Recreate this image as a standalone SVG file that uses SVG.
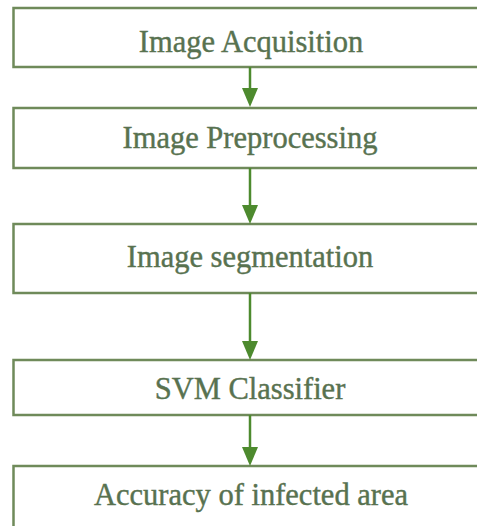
<svg xmlns="http://www.w3.org/2000/svg" width="477" height="526" viewBox="0 0 477 526">
<style>
  .box { fill: #ffffff; stroke: #6f8a5a; stroke-width: 2.5; }
  .lbl { font-family: "Liberation Serif", "Times New Roman", serif; font-size: 30.5px; fill: #587250; stroke: #587250; stroke-width: 0.4; text-anchor: middle; }
  .conn { stroke: #4d8a2e; stroke-width: 2.5; fill: none; }
  .head { fill: #4d8a2e; }
</style>
<rect x="0" y="0" width="477" height="526" fill="#ffffff"/>
<g id="node-acquisition">
  <rect class="box" x="13.5" y="8" width="480" height="59"/>
  <text class="lbl" x="251" y="52">Image Acquisition</text>
</g>
<g id="node-preprocessing">
  <rect class="box" x="13.5" y="108" width="480" height="60"/>
  <text class="lbl" x="250" y="148">Image Preprocessing</text>
</g>
<g id="node-segmentation">
  <rect class="box" x="13.5" y="224" width="480" height="69"/>
  <text class="lbl" x="250" y="267">Image segmentation</text>
</g>
<g id="node-svm">
  <rect class="box" x="13.5" y="360" width="480" height="55"/>
  <text class="lbl" x="250" y="399">SVM Classifier</text>
</g>
<g id="node-accuracy">
  <rect class="box" x="13.5" y="466" width="480" height="80"/>
  <text class="lbl" x="251" y="505">Accuracy of infected area</text>
</g>
<g id="connectors">
  <line class="conn" x1="250" y1="67" x2="250" y2="90"/>
  <polygon class="head" points="242,88 258,88 250,107"/>
  <line class="conn" x1="250" y1="168" x2="250" y2="207"/>
  <polygon class="head" points="242,205 258,205 250,224"/>
  <line class="conn" x1="250" y1="293" x2="250" y2="343"/>
  <polygon class="head" points="242,341 258,341 250,360"/>
  <line class="conn" x1="250" y1="415" x2="250" y2="449"/>
  <polygon class="head" points="242,447 258,447 250,466"/>
</g>
</svg>
